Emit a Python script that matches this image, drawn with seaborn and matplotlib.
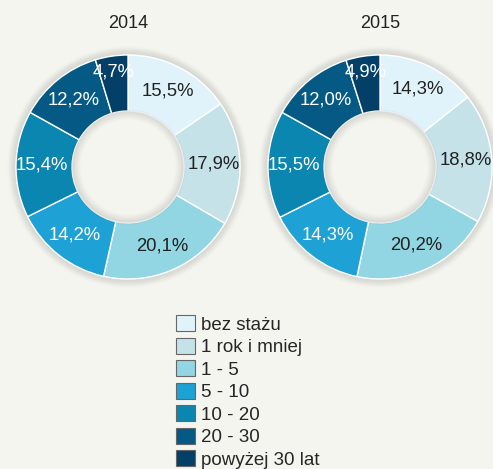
import numpy as np
import seaborn as sns
import matplotlib.pyplot as plt
from matplotlib.patches import Patch, Circle

categories = ['bez stażu', '1 rok i mniej', '1 - 5', '5 - 10', '10 - 20', '20 - 30', 'powyżej 30 lat']
years = ['2014', '2015']
vals_2014 = [15.5, 17.9, 20.1, 14.2, 15.4, 12.2, 4.7]
vals_2015 = [14.3, 18.8, 20.2, 14.3, 15.5, 12.0, 4.9]
colors = ['#e1f3fa', '#c4e2e8', '#92d5e3', '#1ea1d4', '#0a86b0', '#045a84', '#033f66']
label_col = ['#222222', '#222222', '#222222', 'white', 'white', 'white', 'white']

sns.set_theme(style='white')
plt.rcParams['font.family'] = ['Liberation Sans', 'DejaVu Sans']
bg = '#f5f5f0'

fig = plt.figure(figsize=(4.93, 4.69), dpi=100)
fig.patch.set_facecolor(bg)

W, H = 493, 469
centers = [(128, 167), (380, 167)]
R = 112

for (cx, cy), year, vals in zip(centers, years, [vals_2014, vals_2015]):
    ax = fig.add_axes([(cx - R) / W, (H - cy - R) / H, 2 * R / W, 2 * R / H])
    ax.set_facecolor(bg)
    # soft shadow around and inside the ring
    for i in range(10):
        ax.add_patch(Circle((0, 0), 1.0 + 0.008 * i, fill=False, lw=2.0, clip_on=False,
                            color='black', alpha=0.045 * (10 - i) / 10, zorder=0))
        ax.add_patch(Circle((0, 0), 0.5 - 0.008 * i, fill=False, lw=2.0, clip_on=False,
                            color='black', alpha=0.04 * (10 - i) / 10, zorder=3))
    wedges, _ = ax.pie(vals, colors=colors, startangle=90, counterclock=False,
                       radius=1.0, wedgeprops=dict(width=0.5, edgecolor='white', linewidth=1.0))
    cum = np.cumsum([0] + vals[:-1])
    for i, v in enumerate(vals):
        mid = 90 - (cum[i] + v / 2) * 3.6
        r = 0.77 if v > 6 else 0.86
        x, y = r * np.cos(np.radians(mid)), r * np.sin(np.radians(mid))
        ax.text(x, y, f'{v:.1f}'.replace('.', ',') + '%', ha='center', va='center',
                fontsize=13.3, color=label_col[i], zorder=5)
    ax.set_xlim(-1.0, 1.0)
    ax.set_ylim(-1.0, 1.0)
    ax.set_aspect('equal')
    ax.axis('off')
    fig.text(cx / W, 1 - 23 / H, year, ha='center', va='center', fontsize=13, color='#222222')

handles = [Patch(facecolor=c, edgecolor='#666666', linewidth=0.8) for c in colors]
fig.legend(handles, categories, loc='upper left', bbox_to_anchor=(176 / W, 1 - 315 / H),
           frameon=False, borderpad=0, borderaxespad=0, fontsize=13.5,
           handlelength=1.0, handleheight=0.96, labelspacing=0.21, handletextpad=0.35)

fig.savefig('out.png', dpi=100, facecolor=bg)
